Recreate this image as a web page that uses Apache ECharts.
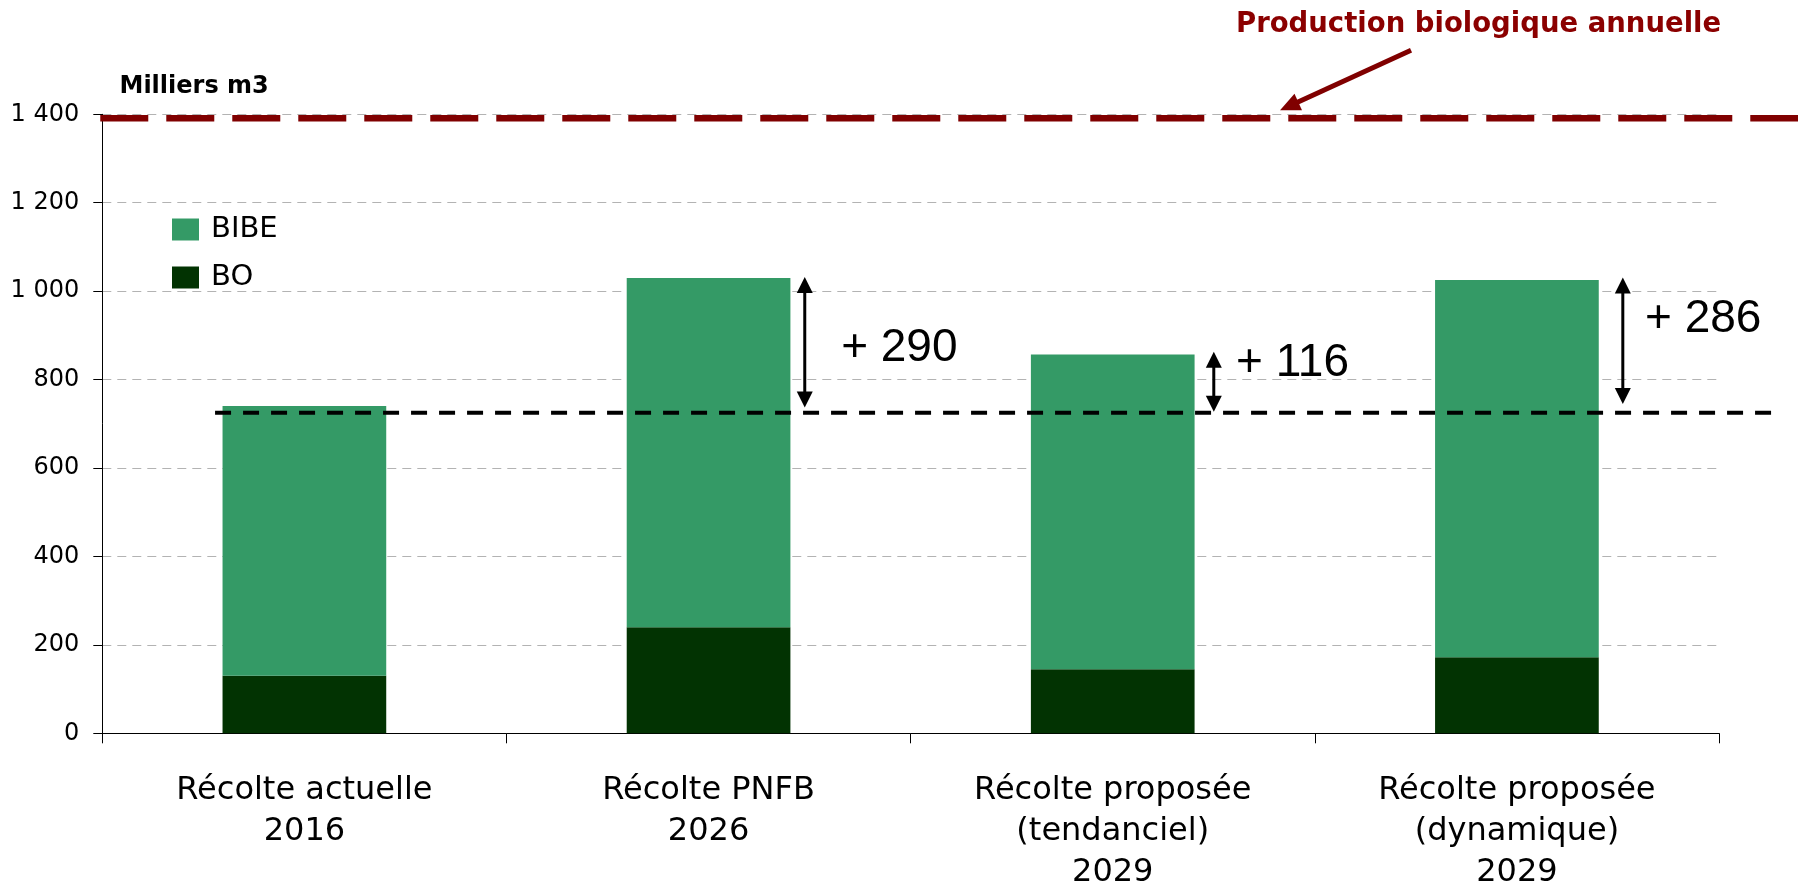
<!DOCTYPE html>
<html>
<head>
<meta charset="utf-8">
<script src="https://cdn.jsdelivr.net/npm/echarts@6/dist/echarts.min.js"></script>
<style>
html,body{margin:0;padding:0;background:#fff;}
#chart{width:1798px;height:886px;}
</style>
</head>
<body>
<div id="chart"></div>
<script>
// ---- Data ----
const categories = [
  'Récolte actuelle\n2016',
  'Récolte PNFB\n2026',
  'Récolte proposée\n(tendanciel)\n2029',
  'Récolte proposée\n(dynamique)\n2029'
];
const seriesBO = [130, 240, 145, 172];
const seriesBIBE = [610, 790, 712, 853];
const yTickLabels = ['0', '200', '400', '600', '800', '1 000', '1 200', '1 400'];
const productionBiologique = 1391;
const niveauReference = 725;
const gainLabels = ['+ 290', '+ 116', '+ 286'];
const gainFrom = [737, 727, 745];
const gainTo = [1032, 863, 1031];
const gainLabelY = [870, 836, 937];

// ---- Annotation placement on a hidden 0..4 value axis (category units) ----
const gainArrowX = [1.738, 2.750, 3.762];
const gainLabelX = [1.828, 2.805, 3.817];

const gainData = gainLabels.map((t, i) => [gainArrowX[i], gainFrom[i], gainTo[i], gainLabelX[i], gainLabelY[i], i]);
const refLineData = [
  [-0.005, 4.25, productionBiologique, 0],
  [0.279, 4.131, niveauReference, 1]
];
const redArrowData = [[3.238, 1545, 2.914, 1409]];

const chart = echarts.init(document.getElementById('chart'));

function renderRefLine(params, api) {
  const x1 = api.value(0), x2 = api.value(1), y = api.value(2), kind = api.value(3);
  const p1 = api.coord([x1, y]);
  const p2 = api.coord([x2, y]);
  const style = kind === 0
    ? { stroke: '#800000', lineWidth: 6.5, lineDash: [48, 18] }
    : { stroke: '#000000', lineWidth: 4, lineDash: [16, 12] };
  return { type: 'line', shape: { x1: p1[0], y1: p1[1], x2: p2[0], y2: p2[1] }, style: style };
}

function renderGain(params, api) {
  const x = api.value(0), yFrom = api.value(1), yTo = api.value(2);
  const lx = api.value(3), ly = api.value(4), idx = api.value(5);
  const pb = api.coord([x, yFrom]);
  const pt = api.coord([x, yTo]);
  const lp = api.coord([lx, ly]);
  const head = 16, hw = 8;
  return {
    type: 'group',
    children: [
      { type: 'line', shape: { x1: pb[0], y1: pb[1] - head + 2, x2: pt[0], y2: pt[1] + head - 2 },
        style: { stroke: '#000', lineWidth: 3 } },
      { type: 'polygon', shape: { points: [[pt[0], pt[1]], [pt[0] - hw, pt[1] + head], [pt[0] + hw, pt[1] + head]] },
        style: { fill: '#000' } },
      { type: 'polygon', shape: { points: [[pb[0], pb[1]], [pb[0] - hw, pb[1] - head], [pb[0] + hw, pb[1] - head]] },
        style: { fill: '#000' } },
      { type: 'text', x: lp[0], y: lp[1],
        style: { text: gainLabels[idx], fill: '#000', font: '46px "Liberation Sans", Arial, sans-serif',
                 align: 'left', verticalAlign: 'middle' } }
    ]
  };
}

function renderRedArrow(params, api) {
  const t = api.coord([api.value(0), api.value(1)]);
  const h = api.coord([api.value(2), api.value(3)]);
  const dx = h[0] - t[0], dy = h[1] - t[1];
  const len = Math.sqrt(dx * dx + dy * dy);
  const ux = dx / len, uy = dy / len;
  const hl = 20, hw = 9;
  const bx = h[0] - ux * hl, by = h[1] - uy * hl;
  return {
    type: 'group',
    children: [
      { type: 'line', shape: { x1: t[0], y1: t[1], x2: bx + ux * 2, y2: by + uy * 2 },
        style: { stroke: '#800000', lineWidth: 5 } },
      { type: 'polygon', shape: { points: [[h[0], h[1]], [bx - uy * hw, by + ux * hw], [bx + uy * hw, by - ux * hw]] },
        style: { fill: '#800000' } }
    ]
  };
}

const option = {
  animation: false,
  backgroundColor: '#ffffff',
  textStyle: { fontFamily: '"DejaVu Sans", sans-serif' },
  grid: { left: 102.3, right: 79, top: 114.3, bottom: 152.7, containLabel: false, outerBoundsMode: 'none' },
  legend: {
    orient: 'vertical',
    left: 172,
    top: 215,
    padding: 0,
    itemWidth: 27,
    itemHeight: 22,
    itemGap: 19,
    icon: 'rect',
    data: ['BIBE', 'BO'],
    textStyle: { fontFamily: '"DejaVu Sans", sans-serif', fontSize: 29, color: '#000', lineHeight: 28, padding: [0, 0, 0, 7] }
  },
  graphic: [
    { type: 'text', left: 1236, top: 11,
      style: { text: 'Production biologique annuelle', fill: '#8b0000',
               font: 'bold 27.5px "DejaVu Sans", sans-serif' } },
    { type: 'text', left: 119.5, top: 75,
      style: { text: 'Milliers m3', fill: '#000', font: 'bold 24px "DejaVu Sans", sans-serif' } }
  ],
  xAxis: [
    {
      type: 'category',
      data: categories,
      boundaryGap: true,
      axisLine: { show: true, lineStyle: { color: '#000', width: 1 } },
      axisTick: { show: true, alignWithLabel: false, length: 10, lineStyle: { color: '#000', width: 1 } },
      axisLabel: { interval: 0, margin: 37, color: '#000', fontSize: 32, lineHeight: 41,
                   fontFamily: '"DejaVu Sans", sans-serif', align: 'center' },
      splitLine: { show: false }
    },
    { type: 'value', min: 0, max: 4, show: false, position: 'top' }
  ],
  yAxis: {
    type: 'value',
    min: 0,
    max: 1400,
    interval: 200,
    axisLine: { show: true, lineStyle: { color: '#000', width: 1 } },
    axisTick: { show: true, length: 9, lineStyle: { color: '#000', width: 1 } },
    axisLabel: { margin: 23, color: '#000', fontSize: 24, fontFamily: '"DejaVu Sans", sans-serif',
                 formatter: function (v) { return yTickLabels[Math.round(v / 200)]; } },
    splitLine: { show: true, lineStyle: { color: '#b3b3b3', width: 1, type: [9, 6] } }
  },
  series: [
    { name: 'BO', type: 'bar', stack: 'total', barWidth: '40.5%', data: seriesBO,
      itemStyle: { color: '#023302' }, z: 2 },
    { name: 'BIBE', type: 'bar', stack: 'total', barWidth: '40.5%', data: seriesBIBE,
      itemStyle: { color: '#349a66' }, z: 2 },
    { name: 'refs', type: 'custom', xAxisIndex: 1, yAxisIndex: 0, renderItem: renderRefLine,
      data: refLineData, z: 5, silent: true, clip: false },
    { name: 'gains', type: 'custom', xAxisIndex: 1, yAxisIndex: 0, renderItem: renderGain,
      data: gainData, z: 6, silent: true, clip: false },
    { name: 'redArrow', type: 'custom', xAxisIndex: 1, yAxisIndex: 0, renderItem: renderRedArrow,
      data: redArrowData, z: 6, silent: true, clip: false }
  ]
};
chart.setOption(option);
</script>
</body>
</html>
